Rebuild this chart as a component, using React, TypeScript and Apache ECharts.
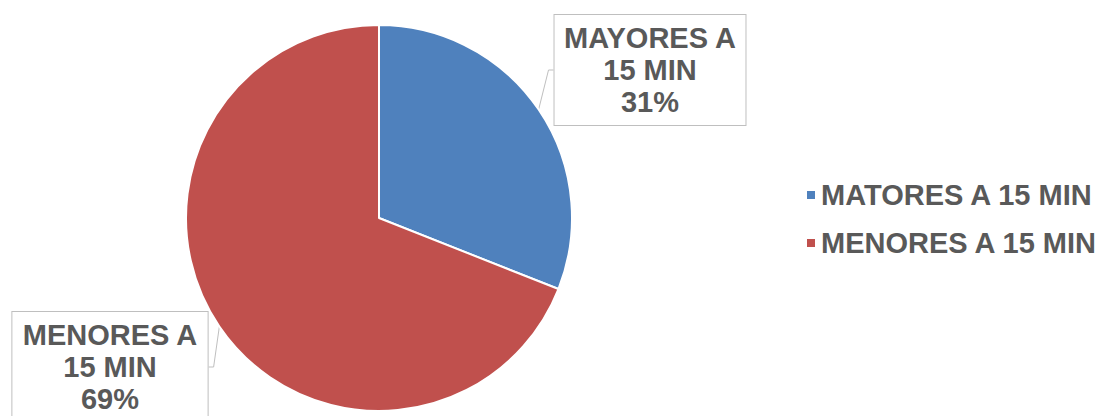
import React, { useEffect, useRef } from "react";
import * as echarts from "echarts";

const legendNames = ["MATORES A 15 MIN", "MENORES A 15 MIN"];
const labelTexts = ["MAYORES A\n15 MIN", "MENORES A\n15 MIN"];
const values = [31, 69];
const colors = ["#4F81BD", "#C0504D"];

export default function App() {
  const ref = useRef<HTMLDivElement>(null);
  useEffect(() => {
    const chart = echarts.init(ref.current!, null, { renderer: "svg" });
    const font = "'Liberation Sans', Arial, sans-serif";
    chart.setOption({
      animation: false,
      backgroundColor: "#ffffff",
      legend: {
        orient: "vertical",
        left: 800,
        top: 174,
        icon: "rect",
        itemWidth: 10,
        itemHeight: 10,
        itemGap: 16,
        data: legendNames,
        textStyle: {
          fontFamily: font,
          fontSize: 29,
          fontWeight: "bold",
          color: "#595959",
          lineHeight: 32,
        },
      },
      series: [
        {
          type: "pie",
          center: [379, 218],
          radius: 193,
          startAngle: 90,
          clockwise: true,
          itemStyle: { borderColor: "#ffffff", borderWidth: 2 },
          label: {
            show: true,
            position: "outside",
            formatter: (p: any) => `${labelTexts[p.dataIndex]}\n${p.percent}%`,
            fontFamily: font,
            fontSize: 29,
            fontWeight: "bold",
            color: "#595959",
            lineHeight: 32,
            backgroundColor: "#ffffff",
            borderColor: "#BFBFBF",
            borderWidth: 1,
            padding: [7, 9],
            align: "center",
          },
          labelLine: {
            show: true,
            length: 5,
            length2: 5,
            lineStyle: { color: "#BFBFBF", width: 1 },
          },
          labelLayout: (params: any) =>
            params.dataIndex === 0
              ? { x: 650, y: 70, align: "center", verticalAlign: "middle" }
              : { x: 110, y: 367, align: "center", verticalAlign: "middle" },
          data: legendNames.map((n, i) => ({
            name: n,
            value: values[i],
            itemStyle: { color: colors[i] },
          })),
        },
      ],
    });
    return () => chart.dispose();
  }, []);
  return (
    <div
      ref={ref}
      style={{ position: "absolute", left: 0, top: 0, width: 1103, height: 416 }}
    />
  );
}
